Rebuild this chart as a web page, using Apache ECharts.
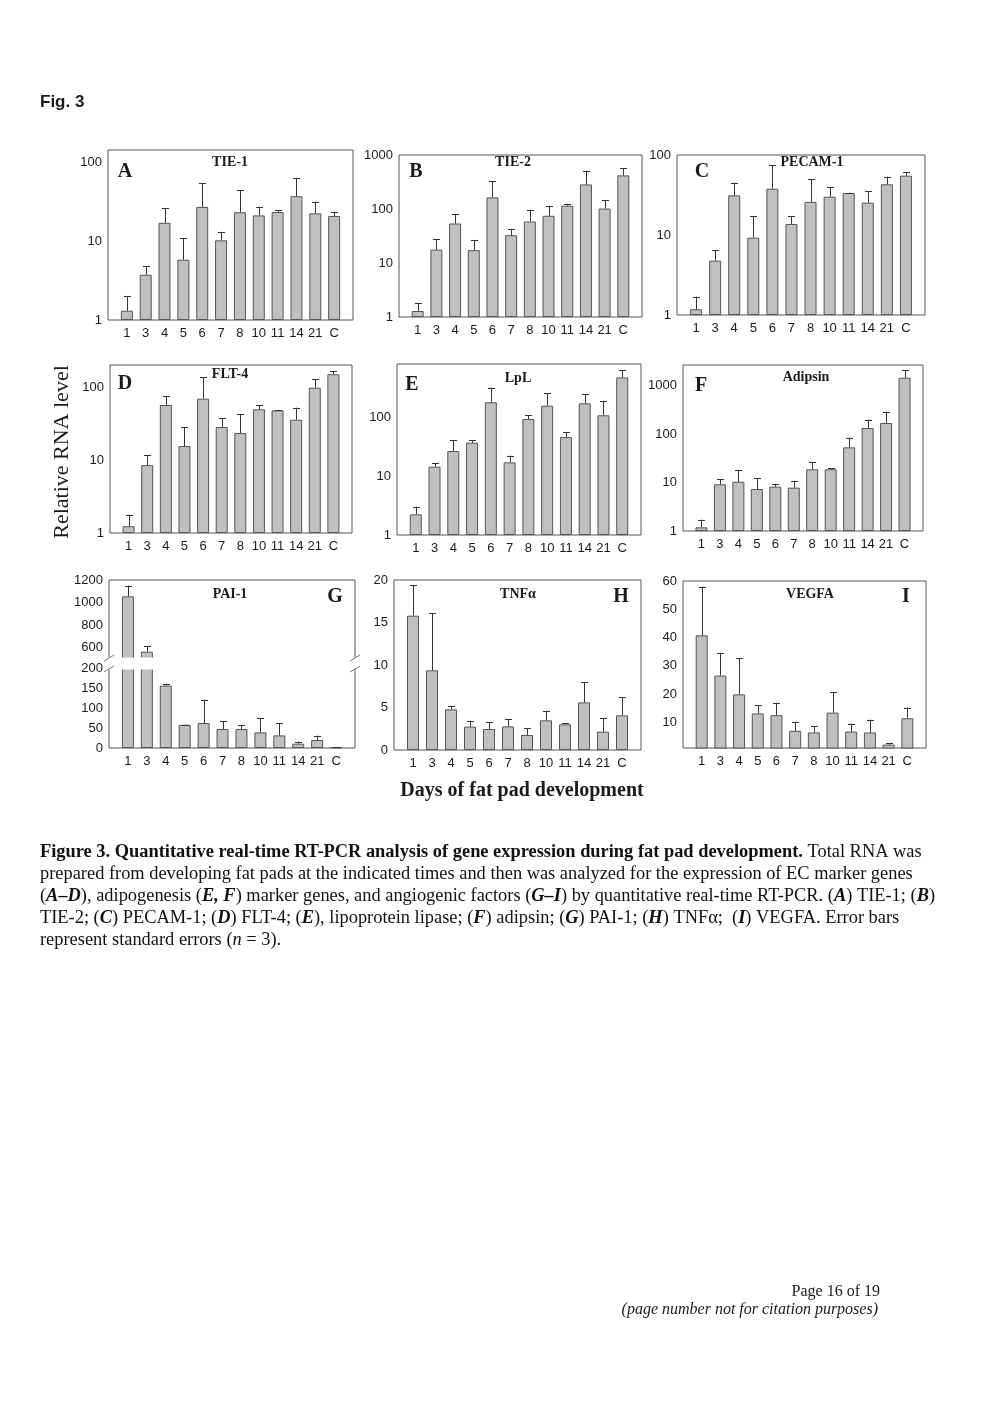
<!DOCTYPE html>
<html><head><meta charset="utf-8">
<script src="https://cdn.jsdelivr.net/npm/echarts@6/dist/echarts.min.js"></script>
<style>html,body{margin:0;padding:0;background:#fff}#c{width:992px;height:1403px}</style>
</head><body><div id="c"></div>
<script>
// ---------- DATA ----------
const days = ['1','3','4','5','6','7','8','10','11','14','21','C'];

const tie1Mean   = [1.31, 3.74, 17.0, 5.8, 27.0, 10.2, 23.1, 21.1, 23.3, 36.9, 22.4, 20.7];
const tie1SE     = [0.71, 1.04, 8.9, 5.1, 26.5, 2.9, 21.3, 6.1, 1.4, 26.2, 9.1, 2.8];
const tie2Mean   = [1.29, 17.7, 53.9, 17.3, 164, 32.7, 58.7, 74.8, 115, 285, 102, 419];
const tie2SE     = [0.53, 9.9, 27.6, 9.5, 160, 10.2, 38, 40.2, 10, 226, 42, 154];
const pecamMean  = [1.18, 4.78, 31.3, 9.26, 37.9, 13.7, 25.9, 30.1, 33.5, 25.4, 43.0, 55.2];
const pecamSE    = [0.52, 1.71, 13.8, 8.0, 37.1, 3.6, 23.7, 9.7, 0.4, 10.1, 10.6, 5.5];
const flt4Mean   = [1.24, 8.58, 57.7, 15.7, 70.5, 28.7, 23.7, 50.3, 48.7, 36.2, 100, 153];
const flt4SE     = [0.55, 3.1, 19, 13, 69.5, 9.5, 19.2, 7.4, 0.6, 16.8, 30, 17];
const lplMean    = [2.25, 14.6, 27.0, 37.5, 183, 17.3, 95, 160, 46.8, 176, 110, 487];
const lplSE      = [0.79, 2.1, 14.6, 4.1, 142, 5.2, 15, 100, 9.4, 74, 85, 154];
const adipsinMean= [1.19, 9.19, 10.4, 7.36, 8.23, 7.85, 18.8, 18.8, 53.4, 134, 170, 1465];
const adipsinSE  = [0.52, 2.6, 8.1, 4.8, 1.26, 3.05, 7.4, 1.2, 31.2, 65, 121, 611];
const pai1Mean   = [1055, 565, 156, 58, 62.5, 47.5, 47.5, 39, 31.5, 10.8, 20, 1.5];
const pai1SE     = [95, 47, 5, 0.5, 58.5, 19.1, 10.8, 36, 31, 5, 10.8, 1];
const tnfMean    = [15.8, 9.37, 4.78, 2.75, 2.47, 2.78, 1.76, 3.49, 3.02, 5.6, 2.16, 4.08];
const tnfSE      = [3.6, 6.73, 0.42, 0.7, 0.78, 0.82, 0.79, 1.14, 0.16, 2.36, 1.6, 2.12];
const vegfaMean  = [40.8, 26.6, 19.95, 13.2, 12.6, 7.07, 6.5, 13.5, 6.8, 6.5, 2.2, 11.5];
const vegfaSE    = [17.2, 8.0, 12.85, 2.9, 4.4, 3.2, 2.2, 7.2, 2.8, 4.5, 0.6, 3.8];

// ---------- STYLE / LAYOUT ----------
const SERIF = "'Liberation Serif','Times New Roman',serif";
const SANS = "'Liberation Sans',Arial,sans-serif";
const BAR_FILL = '#c0c0c0', BAR_EDGE = '#555', FRAME = '#555', TXT = '#1a1a1a';

const logFmt = v => { const l = Math.log10(v); const r = Math.round(l); return Math.abs(l - r) < 1e-6 ? String(Math.round(Math.pow(10, r))) : ''; };

const panels = [
  {title:'TIE-1', letter:'A', mean:tie1Mean, se:tie1SE, left:108, right:353, top:150, bottom:320, y:{type:'log', min:1, max:142}, tPos:[230,162], lPos:[125,172]},
  {title:'TIE-2', letter:'B', mean:tie2Mean, se:tie2SE, left:399, right:642, top:155, bottom:317, y:{type:'log', min:1, max:1000}, tPos:[513,162], lPos:[416,172]},
  {title:'PECAM-1', letter:'C', mean:pecamMean, se:pecamSE, left:677, right:925, top:155, bottom:315, y:{type:'log', min:1, max:100}, tPos:[812,162], lPos:[702,172]},
  {title:'FLT-4', letter:'D', mean:flt4Mean, se:flt4SE, left:110, right:352, top:365, bottom:533, y:{type:'log', min:1, max:205}, tPos:[230,374], lPos:[125,384]},
  {title:'LpL', letter:'E', mean:lplMean, se:lplSE, left:397, right:641, top:364, bottom:535, y:{type:'log', min:1, max:824}, tPos:[518,378], lPos:[412,385]},
  {title:'Adipsin', letter:'F', mean:adipsinMean, se:adipsinSE, left:683, right:923, top:365, bottom:531, y:{type:'log', min:1, max:2680}, tPos:[806,377], lPos:[701,386]},
  {title:'TNF\u03b1', letter:'H', mean:tnfMean, se:tnfSE, left:394, right:641, top:580, bottom:750, y:{type:'value', min:0, max:20, interval:5}, tPos:[518,594], lPos:[621,597]},
  {title:'VEGFA', letter:'I', mean:vegfaMean, se:vegfaSE, left:683, right:926, top:581, bottom:748, y:{type:'value', min:1, max:60, splitNumber:6, fmt:v => (v % 10 === 0 ? String(v) : '')}, tPos:[810,594], lPos:[906,597]}
];
// PAI-1 broken axis: two stacked grids
const paiLayout = {left:109, right:355, top:580, breakTop:659, breakBottom:668, bottom:748, tPos:[230,594], lPos:[335,597]};

const grids = [], xAxes = [], yAxes = [], series = [], graphics = [];

function renderErr(params, api) {
  const x = api.value(0), m = api.value(1), t = api.value(2);
  const p1 = api.coord([x, m]), p2 = api.coord([x, t]);
  const cx = Math.round(p1[0]) + 0.5;
  return {type:'group', children:[
    {type:'line', shape:{x1:cx, y1:p1[1], x2:cx, y2:p2[1]}, style:{stroke:'#333', lineWidth:1}},
    {type:'line', shape:{x1:cx - 3.5, y1:Math.round(p2[1]) + 0.5, x2:cx + 3.5, y2:Math.round(p2[1]) + 0.5}, style:{stroke:'#333', lineWidth:1}}
  ]};
}

function addGrid(box, ycfg, mean, se, opts) {
  const idx = grids.length;
  grids.push({left:box.left, top:box.top, width:box.right - box.left, height:box.bottom - box.top,
    show:true, borderColor:FRAME, borderWidth:1, backgroundColor:'rgba(0,0,0,0)', containLabel:false, outerBoundsMode:'none', z:0});
  xAxes.push({gridIndex:idx, type:'value', min:-1, max:12, interval:1,
    axisLine:{show:false}, axisTick:{show:false}, splitLine:{show:false},
    axisLabel:{show:opts.showX !== false, margin:7, fontSize:13, color:TXT, fontFamily:SANS,
      formatter: v => (days[v] !== undefined ? days[v] : '')}});
  const y = {gridIndex:idx, type:ycfg.type, min:ycfg.min, max:ycfg.max,
    axisLine:{show:false}, axisTick:{show:false}, splitLine:{show:false},
    axisLabel:{margin:6, fontSize:13, color:TXT, fontFamily:SANS}};
  if (ycfg.type === 'log') { y.logBase = 10; y.axisLabel.formatter = logFmt; }
  if (ycfg.interval) y.interval = ycfg.interval;
  if (ycfg.splitNumber) y.splitNumber = ycfg.splitNumber;
  if (ycfg.fmt) y.axisLabel.formatter = ycfg.fmt;
  yAxes.push(y);
  series.push({type:'bar', xAxisIndex:idx, yAxisIndex:idx, barWidth:12, clip:true, silent:true,
    itemStyle:{color:BAR_FILL, borderColor:BAR_EDGE, borderWidth:1},
    data: mean.map((v, i) => [i, v])});
  const errData = mean.map((v, i) => [i, v, v + se[i]]).filter(d => !opts.errFilter || opts.errFilter(d));
  series.push({type:'custom', xAxisIndex:idx, yAxisIndex:idx, clip:true, silent:true, renderItem:renderErr, data:errData, z:3});
}

function addText(x, y, text, style) {
  graphics.push({type:'text', x:x, y:y, z:100, silent:true,
    style:Object.assign({text:text, fill:TXT, align:'center', verticalAlign:'middle', textAlign:'center', textVerticalAlign:'middle'}, style)});
}

panels.forEach(p => {
  addGrid(p, p.y, p.mean, p.se, {});
  addText(p.tPos[0], p.tPos[1], p.title, {fontSize:14, fontWeight:'bold', fontFamily:SERIF});
  addText(p.lPos[0], p.lPos[1], p.letter, {fontSize:20, fontWeight:'bold', fontFamily:SERIF});
});

// PAI-1 upper part (500–1200) and lower part (0–200)
addGrid({left:paiLayout.left, right:paiLayout.right, top:paiLayout.top, bottom:paiLayout.breakTop},
  {type:'value', min:500, max:1200, interval:100, fmt:v => (v % 200 === 0 ? String(v) : '')},
  pai1Mean, pai1SE, {showX:false, errFilter:d => d[1] >= 500});
addGrid({left:paiLayout.left, right:paiLayout.right, top:paiLayout.breakBottom, bottom:paiLayout.bottom},
  {type:'value', min:0, max:200, interval:50},
  pai1Mean, pai1SE, {errFilter:d => d[2] <= 200});
addText(paiLayout.tPos[0], paiLayout.tPos[1], 'PAI-1', {fontSize:14, fontWeight:'bold', fontFamily:SERIF});
addText(paiLayout.lPos[0], paiLayout.lPos[1], 'G', {fontSize:20, fontWeight:'bold', fontFamily:SERIF});
// white gap of the broken axis (covers the inner borders of both grids)
graphics.push({type:'rect', z:150, silent:true,
  shape:{x:paiLayout.left - 3, y:paiLayout.breakTop - 1.5, width:paiLayout.right - paiLayout.left + 6, height:paiLayout.breakBottom - paiLayout.breakTop + 3},
  style:{fill:'#fff', stroke:null}});
[paiLayout.left, paiLayout.right].forEach(x => {
  [paiLayout.breakTop - 1, paiLayout.breakBottom + 1].forEach(yy => {
    graphics.push({type:'line', z:160, silent:true, shape:{x1:x - 5, y1:yy + 3, x2:x + 5, y2:yy - 3}, style:{stroke:'#777', lineWidth:1}});
  });
});

// Page texts
addText(40, 102, 'Fig. 3', {fontSize:17, fontWeight:'bold', fontFamily:SANS, align:'left', textAlign:'left'});
graphics.push({type:'text', x:62, y:452, rotation:Math.PI / 2, z:100, silent:true,
  style:{text:'Relative RNA level', fontSize:22, fontFamily:SERIF, fill:TXT, align:'center', verticalAlign:'middle', textAlign:'center', textVerticalAlign:'middle'}});
addText(522, 791, 'Days of fat pad development', {fontSize:20, fontWeight:'bold', fontFamily:SERIF});

const CAP = 18.4;
const capRich = {
  n:{fontSize:CAP, fontFamily:SERIF, fill:'#111'},
  b:{fontSize:CAP, fontFamily:SERIF, fontWeight:'bold', fill:'#111'},
  bi:{fontSize:CAP, fontFamily:SERIF, fontWeight:'bold', fontStyle:'italic', fill:'#111'},
  i:{fontSize:CAP, fontFamily:SERIF, fontStyle:'italic', fill:'#111'}
};
const capLines = [
  '{b|Figure 3. Quantitative real-time RT-PCR analysis of gene expression during fat pad development.}{n| Total RNA was}',
  '{n|prepared from developing fat pads at the indicated times and then was analyzed for the expression of EC marker genes}',
  '{n|(}{bi|A\u2013D}{n|), adipogenesis (}{bi|E, F}{n|) marker genes, and angiogenic factors (}{bi|G\u2013I}{n|) by quantitative real-time RT-PCR. (}{bi|A}{n|) TIE-1; (}{bi|B}{n|)}',
  '{n|TIE-2; (}{bi|C}{n|) PECAM-1; (}{bi|D}{n|) FLT-4; (}{bi|E}{n|), lipoprotein lipase; (}{bi|F}{n|) adipsin; (}{bi|G}{n|) PAI-1; (}{bi|H}{n|) TNF\u03b1;  (}{bi|I}{n|) VEGFA. Error bars}',
  '{n|represent standard errors (}{i|n}{n| = 3).}'
];
capLines.forEach((t, k) => {
  graphics.push({type:'text', x:40, y:852 + k * 22, z:100, silent:true,
    style:{text:t, rich:capRich, fontSize:CAP, fontFamily:SERIF, fill:'#111', align:'left', verticalAlign:'middle', textAlign:'left', textVerticalAlign:'middle'}});
});
addText(880, 1292, 'Page 16 of 19', {fontSize:16, fontFamily:SERIF, align:'right', textAlign:'right'});
addText(878, 1310, '(page number not for citation purposes)', {fontSize:16, fontFamily:SERIF, fontStyle:'italic', align:'right', textAlign:'right'});

const chart = echarts.init(document.getElementById('c'), null, {renderer:'canvas', width:992, height:1403});
chart.setOption({
  animation:false,
  backgroundColor:'#ffffff',
  grid:grids, xAxis:xAxes, yAxis:yAxes, series:series,
  graphic:{elements:graphics}
});
</script></body></html>
